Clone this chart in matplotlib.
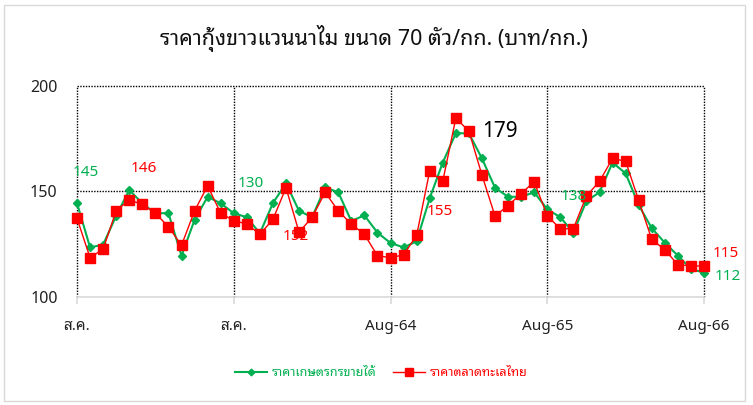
import matplotlib
matplotlib.use("Agg")
import matplotlib.pyplot as plt
from matplotlib.patches import Rectangle

# ---------------- data ----------------
farm_price = [144.5, 123.5, 124.8, 138.5, 150.7, 144.4, 139.7, 139.7, 119.6, 136.5,
              147.5, 144.4, 139.7, 137.8, 130.2, 144.5, 153.9, 140.8, 137.8, 152.0,
              149.6, 136.0, 138.7, 130.5, 125.6, 123.5, 126.4, 146.8, 163.7, 177.6,
              177.6, 165.7, 151.8, 147.5, 147.5, 149.6, 141.6, 137.8, 130.5, 145.5,
              149.6, 163.7, 158.6, 143.6, 132.6, 125.7, 119.6, 113.3, 111.5]
market_price = [137.3, 118.6, 122.7, 140.9, 146.0, 143.9, 139.7, 133.3, 124.5, 140.8,
                152.7, 139.7, 136.2, 134.6, 129.7, 136.8, 151.8, 130.7, 137.8, 149.6,
                140.8, 134.6, 129.7, 119.6, 118.6, 120.0, 129.2, 159.7, 154.8, 184.7,
                178.7, 157.8, 138.4, 143.3, 149.0, 154.6, 138.5, 132.3, 132.4, 147.9,
                154.8, 165.7, 164.3, 145.8, 127.3, 122.4, 115.3, 114.7, 114.7]
tick_pos = [0, 12, 24, 36, 48]
tick_labels = ["ส.ค.", "ส.ค.", "Aug-64", "Aug-65", "Aug-66"]
series_names = ["ราคาเกษตรกรขายได้", "ราคาตลาดทะเลไทย"]
title = "ราคากุ้งขาวแวนนาไม ขนาด 70 ตัว/กก. (บาท/กก.)"
# data labels: (text, x, y, colour key)
labels = [("145", 0.67, 158.8, "g"), ("146", 5.1, 160.7, "r"), ("130", 13.3, 154.0, "g"),
          ("152", 16.75, 128.9, "r"), ("155", 27.8, 140.3, "r"), ("179", 32.4, 178.2, "k"),
          ("138", 38.0, 147.4, "g"), ("115", 49.7, 120.4, "r"), ("112", 49.8, 109.5, "g")]

GREEN = "#00B050"
RED = "#FF0000"
FONT = ["Noto Sans", "Noto Sans Thai Looped", "DejaVu Sans"]
THAI = ["Noto Sans Thai Looped", "Noto Sans", "DejaVu Sans"]
plt.rcParams["font.family"] = FONT

fig = plt.figure(figsize=(7.53, 4.05), dpi=100)
W, H = 753, 405
fig.patches.append(Rectangle((4 / W, 4 / H), 741 / W, 396 / H, transform=fig.transFigure,
                             fill=False, edgecolor="#D9D9D9", linewidth=1))

ax = fig.add_axes([77 / W, 1 - 297 / H, 627 / W, 211 / H])
x = list(range(len(farm_price)))

# grid
for yv in [150, 200]:
    ax.axhline(yv, color="black", linestyle=(0, (1, 1)), linewidth=1, zorder=1, clip_on=False)
for xv in tick_pos:
    ax.axvline(xv, color="black", linestyle=(0, (1, 1)), linewidth=1, zorder=1, clip_on=False)

ax.plot(x, farm_price, color=GREEN, linewidth=1.5, marker="D", markersize=4,
        label=series_names[0], clip_on=False, zorder=3)
ax.plot(x, market_price, color=RED, linewidth=1.0, marker="s", markersize=6.5,
        label=series_names[1], clip_on=False, zorder=4)

ax.set_xlim(0, 48)
ax.set_ylim(100, 200)
for s in ["top", "right", "left"]:
    ax.spines[s].set_visible(False)
ax.spines["bottom"].set_color("#D9D9D9")
ax.spines["bottom"].set_linewidth(1.2)
ax.spines["bottom"].set_zorder(2)

ax.set_yticks([100, 150, 200])
ax.set_yticklabels(["100", "150", "200"])
ax.tick_params(axis="y", length=0, pad=14, labelsize=11.5, labelcolor="#222222")
ax.set_xticks(tick_pos)
ax.set_xticklabels(tick_labels)
ax.tick_params(axis="x", length=5, color="#D9D9D9", width=1.2, pad=11, labelsize=11,
               labelcolor="#222222")

cmap = {"g": GREEN, "r": RED, "k": "black"}
for txt, lx, ly, c in labels:
    ax.text(lx, ly, txt, color=cmap[c], ha="center", va="center",
            fontsize=15 if c == "k" else 11, clip_on=False, zorder=5)

fig.text(0.497, 1 - 38 / H, title, ha="center", va="center", fontsize=15.5,
         family=THAI, color="#111111")

leg = fig.legend(loc="center", bbox_to_anchor=(381 / W, 1 - 373 / H), ncol=2, frameon=False,
                 labelcolor="linecolor", handlelength=2.6, columnspacing=1.3,
                 handletextpad=0.35, markerscale=0.85, prop={"family": THAI, "size": 9})

fig.savefig("out.png", dpi=100)
